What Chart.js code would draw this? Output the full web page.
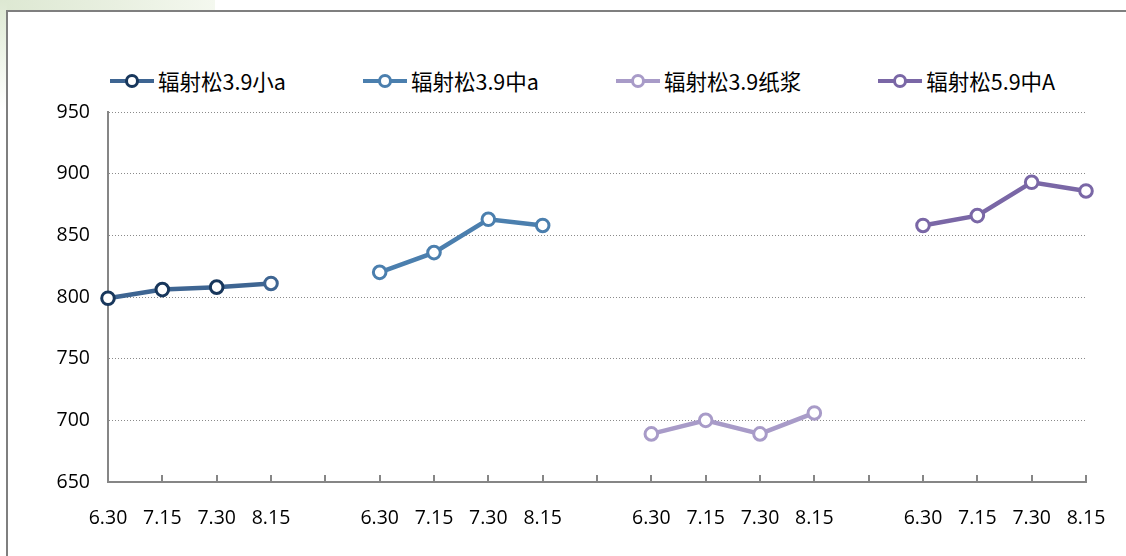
<!DOCTYPE html>
<html lang="zh">
<head>
<meta charset="UTF-8">
<title>辐射松价格</title>
<script src="https://cdn.jsdelivr.net/npm/chart.js"></script>
<style>
    body { margin: 0; width: 1126px; height: 556px; overflow: hidden; background: #fff; position: relative; font-family: "Noto Sans CJK SC", sans-serif; }
    .bg-top { position: absolute; left: 0; top: 0; width: 215px; height: 11px; background: linear-gradient(90deg, #dde8d2, #e9f0e1 55%, #f4f8ef); }
    .bg-left { position: absolute; left: 0; top: 0; width: 7px; height: 110px; background: linear-gradient(180deg, #dde8d2, #eef4e8 50%, #fff); }
    .frame { position: absolute; left: 6px; top: 10px; width: 1200px; height: 600px; border-left: 2px solid #7f7f7f; border-top: 2px solid #7f7f7f; background: #fff; }
    #legend { position: absolute; left: 110px; top: 67px; display: flex; gap: 77px; font-size: 21.5px; line-height: 28px; color: #000; }
    .item { display: flex; align-items: center; }
    .sym { position: relative; width: 44px; height: 15px; margin-right: 4px; }
    .sym .ln { position: absolute; left: 0; right: 0; top: 5px; height: 4px; }
    .sym .dot { position: absolute; left: 15px; top: 0; width: 8px; height: 8px; border: 3px solid; border-radius: 50%; background: #fff; }
    #wrap { position: absolute; left: 0; top: 0; width: 1126px; height: 556px; }
</style>
</head>
<body>
<div class="bg-top"></div>
<div class="bg-left"></div>
<div class="frame"></div>
<div id="legend"></div>
<div id="wrap"><canvas id="chart"></canvas></div>
<script>
// data
const dates = ['6.30', '7.15', '7.30', '8.15'];
const seriesNames = ['辐射松3.9小a', '辐射松3.9中a', '辐射松3.9纸浆', '辐射松5.9中A'];
const small39 = [799, 806, 808, 811];
const medium39 = [820, 836, 863, 858];
const pulp39 = [689, 700, 689, 706];
const medium59 = [858, 866, 893, 886];
const yTicks = [650, 700, 750, 800, 850, 900, 950];

const lineColors = ['#3e6592', '#4b7fae', '#a89bc8', '#7a67a6'];
const markerColors = ['#18375c', '#4b7fae', '#a89bc8', '#7a67a6'];

// four groups of dates, an empty slot between groups
const labels = [];
[0, 1, 2, 3].forEach((g) => {
    if (g > 0) labels.push('');
    dates.forEach((d) => labels.push(d));
});

function placeInGroup(values, group) {
    const out = labels.map(() => null);
    values.forEach((v, i) => { out[group * 5 + i] = v; });
    return out;
}

const allSeries = [small39, medium39, pulp39, medium59];

const datasets = allSeries.map((vals, g) => {
    let borders = markerColors[g];
    if (g === 0) {
        borders = placeInGroup(vals, 0).map(() => markerColors[0]);
        borders[3] = lineColors[0];
    }
    return {
        label: seriesNames[g],
        data: placeInGroup(vals, g),
        borderColor: lineColors[g],
        borderWidth: 4.5,
        pointRadius: 6.3,
        pointBorderWidth: 3,
        pointBorderColor: borders,
        pointBackgroundColor: '#fff',
        tension: 0,
        spanGaps: false
    };
});

// legend
const legend = document.getElementById('legend');
seriesNames.forEach((name, g) => {
    const item = document.createElement('div');
    item.className = 'item';
    item.innerHTML = '<span class="sym"><span class="ln" style="background:' + lineColors[g] +
        '"></span><span class="dot" style="border-color:' + markerColors[g] + '"></span></span>' +
        '<span>' + name + '</span>';
    legend.appendChild(item);
});

// small tick marks standing up from the category axis
const innerTicks = {
    id: 'innerTicks',
    afterDraw(chart) {
        const x = chart.scales.x;
        const ctx = chart.ctx;
        const bottom = chart.chartArea.bottom;
        ctx.save();
        ctx.strokeStyle = '#868686';
        ctx.lineWidth = 2;
        for (let i = 1; i < labels.length; i++) {
            const px = Math.round(x.getPixelForValue(i));
            ctx.beginPath();
            ctx.moveTo(px, bottom);
            ctx.lineTo(px, bottom - 7);
            ctx.stroke();
        }
        ctx.restore();
    }
};

new Chart(document.getElementById('chart'), {
    type: 'line',
    data: { labels: labels, datasets: datasets },
    plugins: [innerTicks],
    options: {
        responsive: true,
        maintainAspectRatio: false,
        animation: false,
        layout: { padding: { left: 0, right: 40, top: 112, bottom: 0 } },
        plugins: {
            legend: { display: false },
            tooltip: { enabled: false }
        },
        scales: {
            x: {
                type: 'category',
                offset: false,
                grid: { display: false },
                border: { display: true, color: '#868686', width: 2 },
                ticks: {
                    autoSkip: false,
                    maxRotation: 0,
                    padding: 17,
                    color: '#000',
                    font: { family: 'Open Sans', size: 19.5 }
                },
                afterFit(scale) { scale.height = 74; }
            },
            y: {
                min: 650,
                max: 950,
                afterBuildTicks(scale) { scale.ticks = yTicks.map((v) => ({ value: v })); },
                grid: { color: '#8a8a8a', lineWidth: 1, drawTicks: false },
                border: { display: true, color: '#868686', width: 2, dash: [1, 2] },
                ticks: {
                    padding: 18,
                    color: '#000',
                    font: { family: 'Open Sans', size: 19.5 }
                },
                afterFit(scale) { scale.width = 108; }
            }
        }
    }
});
</script>
</body>
</html>
